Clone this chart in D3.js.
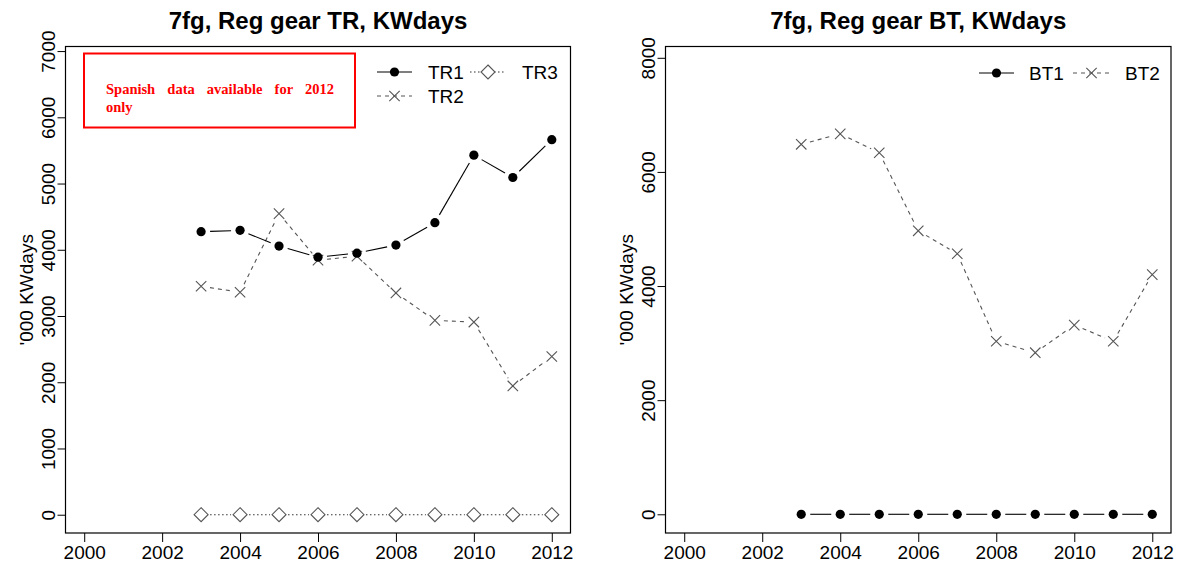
<!DOCTYPE html>
<html><head><meta charset="utf-8">
<script src="https://cdn.jsdelivr.net/npm/d3@7"></script>
<style>
html,body{margin:0;padding:0;background:#fff;}
svg{display:block;font-family:"Liberation Sans",Arial,sans-serif;}
</style></head>
<body>
<svg id="chart" width="1178" height="567"></svg>
<script>
// ---- data ----
const years = [2003,2004,2005,2006,2007,2008,2009,2010,2011,2012];
const TR1 = [4273,4293,4056,3889,3949,4071,4409,5429,5091,5662];
const TR2 = [3449,3359,4545,3843,3904,3348,2934,2909,1944,2389];
const TR3 = [0,0,0,0,0,0,0,0,0,0];
const BT1 = [0,0,0,0,0,0,0,0,0,0];
const BT2 = [6484,6667,6336,4968,4566,3032,2832,3316,3032,4201];
const xTicks = [2000,2002,2004,2006,2008,2010,2012];
const yTicksTR = [0,1000,2000,3000,4000,5000,6000,7000];
const yTicksBT = [0,2000,4000,6000,8000];
const titles = ["7fg, Reg gear TR, KWdays","7fg, Reg gear BT, KWdays"];
const yLabel = "'000 KWdays";
const note = ["Spanish data available for 2012","only"];

const svg = d3.select("#chart");
const FS = 19;

function shape(g, type, x, y){
  if(type==="dot"){
    g.append("circle").attr("cx",x).attr("cy",y).attr("r",4.6).attr("fill","#000");
  } else if(type==="x"){
    const s=5.2;
    g.append("path").attr("d",`M${x-s},${y-s}L${x+s},${y+s}M${x-s},${y+s}L${x+s},${y-s}`)
      .attr("stroke","#555").attr("stroke-width",1.1).attr("fill","none");
  } else if(type==="diamond"){
    const s=7;
    g.append("path").attr("d",`M${x},${y-s}L${x+s},${y}L${x},${y+s}L${x-s},${y}Z`)
      .attr("stroke","#555").attr("stroke-width",1.1).attr("fill","#fff");
  }
}
function seriesB(g, xs, ys, vals, type, stroke, dash){
  const pts = years.map((yr,i)=>[xs(yr), ys(vals[i])]);
  const gap = 9;
  for(let i=0;i<pts.length-1;i++){
    const [x0,y0]=pts[i],[x1,y1]=pts[i+1];
    const dx=x1-x0, dy=y1-y0, L=Math.hypot(dx,dy);
    if(L<=2*gap) continue;
    const ux=dx/L, uy=dy/L;
    g.append("line").attr("x1",x0+ux*gap).attr("y1",y0+uy*gap)
      .attr("x2",x1-ux*gap).attr("y2",y1-uy*gap)
      .attr("stroke",stroke).attr("stroke-width",1.1)
      .attr("stroke-dasharray",dash||null);
  }
  pts.forEach(p=>shape(g,type,p[0],p[1]));
}
function legendItem(g, x1, x2, y, type, stroke, dash, label, tx){
  g.append("line").attr("x1",x1).attr("x2",x2).attr("y1",y).attr("y2",y)
    .attr("stroke",stroke).attr("stroke-width",1.1).attr("stroke-dasharray",dash||null);
  shape(g,type,(x1+x2)/2,y);
  g.append("text").attr("x",tx).attr("y",y+7).attr("font-size",FS).text(label);
}

function panel(opts){
  const {L,R,T,B,ydom,yticks,title} = opts;
  const xs = d3.scaleLinear().domain([1999.52,2012.48]).range([L,R]);
  const ys = d3.scaleLinear().domain(ydom).range([B,T]);
  const g = svg.append("g");
  g.append("text").attr("x",(L+R)/2).attr("y",29).attr("text-anchor","middle")
    .attr("font-size",24).attr("font-weight","bold").text(title);
  const xa = g.append("g").attr("transform",`translate(0,${B})`)
    .call(d3.axisBottom(xs).tickValues(xTicks).tickFormat(d3.format("d")).tickSize(9).tickPadding(4));
  xa.select(".domain").remove();
  xa.selectAll("text").attr("font-size",FS).attr("font-family","Liberation Sans, Arial, sans-serif").attr("fill","#000");
  xa.selectAll("line").attr("stroke","#000");
  const ya = g.append("g").attr("transform",`translate(${L},0)`)
    .call(d3.axisLeft(ys).tickValues(yticks).tickFormat(d3.format("d")).tickSize(8));
  ya.select(".domain").remove();
  ya.selectAll("line").attr("stroke","#000");
  ya.selectAll("text").attr("font-size",FS).attr("font-family","Liberation Sans, Arial, sans-serif").attr("fill","#000")
    .attr("x",0).attr("y",-11).attr("dy",null).attr("text-anchor","middle").attr("transform","rotate(-90)");
  g.append("text").attr("transform",`translate(${L-33},${(T+B)/2}) rotate(-90)`)
    .attr("text-anchor","middle").attr("font-size",FS).text(yLabel);
  g.append("rect").attr("x",L).attr("y",T).attr("width",R-L).attr("height",B-T)
    .attr("fill","none").attr("stroke","#000").attr("stroke-width",1.2);
  return {g,xs,ys};
}

// left panel
const p1 = panel({L:65.5,R:570.5,T:46.5,B:533,ydom:[-276,7069],yticks:yTicksTR,title:titles[0]});
seriesB(p1.g,p1.xs,p1.ys,TR3,"diamond","#333","1.5,2.5");
seriesB(p1.g,p1.xs,p1.ys,TR2,"x","#555","4,4");
seriesB(p1.g,p1.xs,p1.ys,TR1,"dot","#000",null);
p1.g.append("rect").attr("x",84).attr("y",53.5).attr("width",271).attr("height",74)
  .attr("fill","none").attr("stroke","#f00").attr("stroke-width",2);
const n1 = p1.g.append("text").attr("x",106).attr("y",94).attr("fill","#f00")
  .attr("font-family","Liberation Serif, Times New Roman, serif").attr("font-weight","bold")
  .attr("font-size",14.5).text(note[0]);
const w = n1.node().getComputedTextLength();
n1.attr("word-spacing", Math.max(0,(228-w)/4));
p1.g.append("text").attr("x",106).attr("y",112).attr("fill","#f00")
  .attr("font-family","Liberation Serif, Times New Roman, serif").attr("font-weight","bold")
  .attr("font-size",14.5).text(note[1]);
legendItem(p1.g,377,412,72,"dot","#000",null,"TR1",428);
legendItem(p1.g,470,506,72,"diamond","#333","1.5,2.5","TR3",522);
legendItem(p1.g,377,412,96,"x","#555","4,4","TR2",428);

// right panel
const p2 = panel({L:665.5,R:1171,T:46.5,B:533,ydom:[-328,8198],yticks:yTicksBT,title:titles[1]});
seriesB(p2.g,p2.xs,p2.ys,BT2,"x","#555","4,4");
seriesB(p2.g,p2.xs,p2.ys,BT1,"dot","#000",null);
legendItem(p2.g,979,1014,73,"dot","#000",null,"BT1",1029);
legendItem(p2.g,1073,1110,73,"x","#555","4,4","BT2",1125);
</script>
</body></html>
